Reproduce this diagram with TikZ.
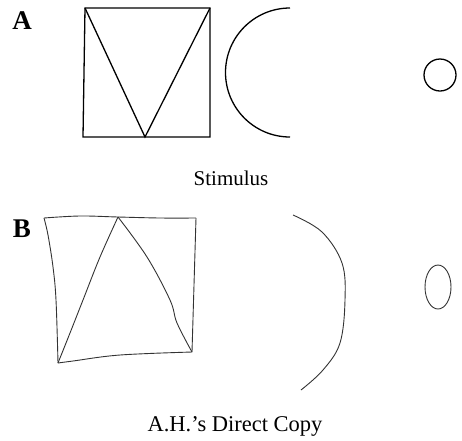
\documentclass[tikz,border=0pt]{standalone}
\usepackage{fontspec}
\setmainfont{Liberation Serif}
\usepackage{tikz}
\definecolor{inkgray}{HTML}{333333}

\begin{document}
\begin{tikzpicture}[x=1pt, y=-1pt,
  stim/.style={line width=1.3pt, black},
  copyline/.style={line width=0.9pt, inkgray, smooth, tension=0.6},
  panel/.style={font=\fontsize{27}{30}\selectfont\bfseries},
  caption/.style={font=\fontsize{21}{25}\selectfont}]
\useasboundingbox (0,0) rectangle (462,440);
% A: stimulus
\node[panel] (labA) at (22,21) {A};
\draw[stim] (85,8) -- (210,8) -- (210,137) -- (83,137) -- cycle;
\draw[stim] (85,8) -- (145,137) -- (210,8);
\draw[stim] (290,8) arc[start angle=90, end angle=270, radius=64.5pt];
\draw[stim] (440,75) circle[radius=16pt];
\node[caption] (stimcap) at (231,178) {Stimulus};
% B: copy
\node[panel] (labB) at (22,229) {B};
\draw[copyline] plot coordinates {(44,218) (80,216) (118,217) (160,218) (196,218)};
\draw[copyline] plot coordinates {(196,218) (194,285) (192,352)};
\draw[copyline] plot coordinates {(192,352) (120,355) (73,361) (58,363)};
\draw[copyline] plot coordinates {(58,363) (56,300) (53,267) (48,235) (44,218)};
\draw[copyline] plot coordinates {(118,217) (100,257) (83,300) (70,333) (58,363)};
\draw[copyline] plot coordinates {(118,217) (147,257) (170,300) (177,323) (192,352)};
\draw[copyline] plot coordinates {(293,215) (322,232) (342,263) (345,300) (340,343) (323,370) (301,390)};
\draw[copyline] (438,287) ellipse[x radius=13pt, y radius=22pt];
\node[caption, font=\fontsize{22.5}{26}\selectfont] (copycap) at (235,426) {A.H.'s Direct Copy};
\end{tikzpicture}
\end{document}
